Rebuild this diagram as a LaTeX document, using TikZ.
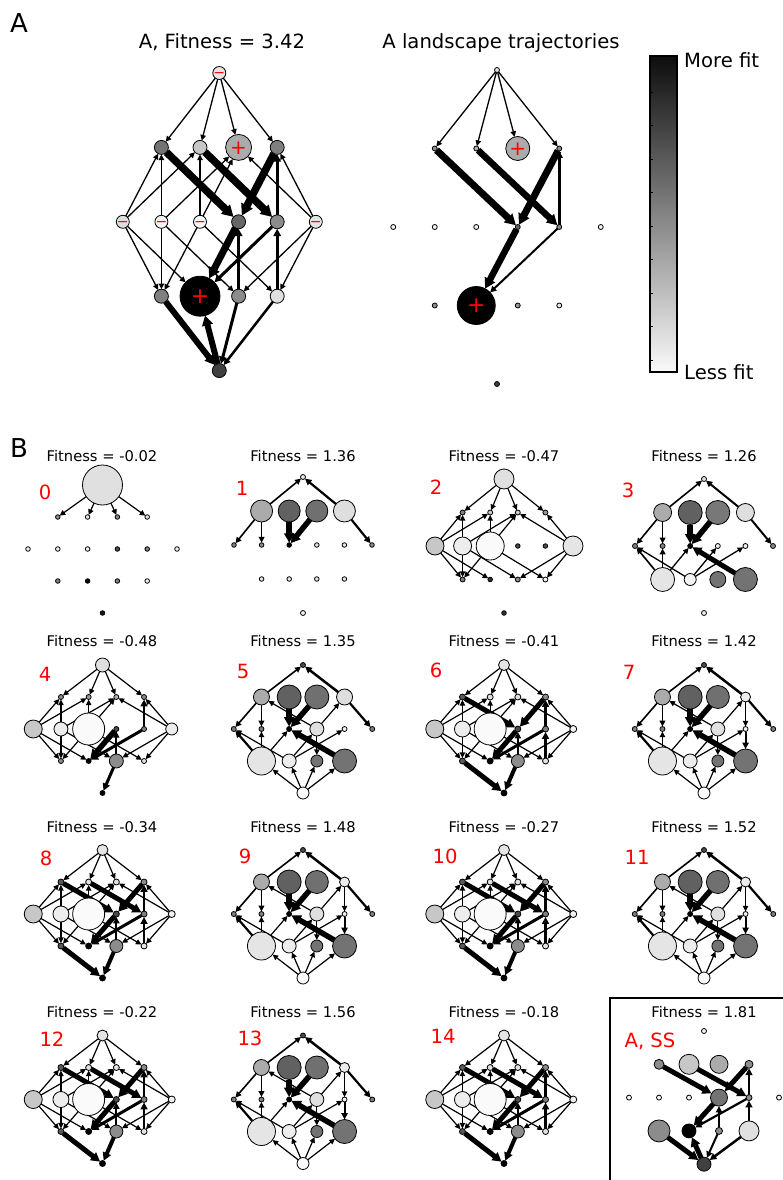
\documentclass[tikz,border=0pt]{standalone}
\usepackage{fontspec}
\setmainfont{DejaVu Sans}
\usetikzlibrary{arrows.meta}
\pgfdeclarelayer{edges}
\pgfsetlayers{edges,main}
\newcommand\defpos[3]{\expandafter\def\csname px#1\endcsname{#2}\expandafter\def\csname py#1\endcsname{#3}}
\defpos{T}{0}{0}
\defpos{a1}{-1.5}{1}\defpos{a2}{-0.5}{1}\defpos{a3}{0.5}{1}\defpos{a4}{1.5}{1}
\defpos{b1}{-2.5}{2}\defpos{b2}{-1.5}{2}\defpos{b3}{-0.5}{2}\defpos{b4}{0.5}{2}\defpos{b5}{1.5}{2}\defpos{b6}{2.5}{2}
\defpos{c1}{-1.5}{3}\defpos{c2}{-0.5}{3}\defpos{c3}{0.5}{3}\defpos{c4}{1.5}{3}
\defpos{Z}{0}{4}
\newcommand\setpanel[5]{\def\pp{#1}\def\pcx{#2}\def\pty{#3}\def\pdx{#4}\def\pdy{#5}}
\newcommand\nds[1]{\foreach \ni/\nr/\ng in {#1}{\node[nd,minimum size={2*\nr},fill=black!\ng] (\pp\ni) at ({\pcx+(\csname px\ni\endcsname)*\pdx},{\pty+(\csname py\ni\endcsname)*\pdy}) {};}}
\newcommand\eds[1]{\begin{pgfonlayer}{edges}\foreach \ea/\eb/\ew in {#1}{\draw[arr=\ew] (\pp\ea) -- (\pp\eb);}\end{pgfonlayer}}
\newcommand\thinedges[1]{\eds{T/a1/#1,T/a2/#1,T/a3/#1,T/a4/#1,b1/a1/#1,b1/a2/#1,b2/a1/#1,b2/a3/#1,b3/a2/#1,b3/a3/#1,b6/a3/#1,b6/a4/#1,b1/c1/#1,b1/c2/#1,b2/c1/#1,b2/c3/#1,b3/c1/#1,b3/c4/#1,b6/c3/#1,b6/c4/#1}}
\newcommand\oddedges{\eds{a1/T/1.6,a4/T/2.5,a1/b1/1.6,a1/b2/1.6,a4/b6/2.2,a2/b3/5.5,a3/b3/5.5,b4/a1/1.2,b4/a4/1.2,b4/c3/1.2,c1/b1/2.2,c1/b2/1.3,c1/b3/1.2,c2/b1/1.2,c2/b4/1.2,c2/b5/1.2,c4/b3/5.5,Z/c1/1.2,Z/c2/1.2,Z/c3/1.2,Z/c4/1.2}}
\newcommand\evenedges{\eds{a1/b4/5,a4/b4/5,b5/a4/2.5,b4/c2/5,b5/c2/3,c3/b4/2,c4/b5/2.5,c1/Z/5,c3/Z/4}}
\newcommand\oddnodes{\nds{T/2.5/70,a1/8/33,a2/12/62,a3/11.5/56,a4/5/7,b1/2.5/50,b2/2.5/50,b3/2.5/100,b4/7/12,b5/2.5/5,b6/2.5/50,c1/14/10,c2/7/7,c3/6/55,c4/12/55,Z/6/2}}
\newcommand\evennodes{\nds{T/5.5/10,a1/3/65,a2/3/12,a3/3/12,a4/3/45,b1/9/22,b2/8/7,b3/16/2,b4/3/70,b5/3/50,b6/3.5/5,c1/3/65,c2/3/100,c3/6.5/45,c4/3/10,Z/3/100}}
\newcommand\sgn[4]{\node[sgnst,font=\fontsize{#3}{#3}\selectfont,anchor=base] (#1) at ([yshift={-0.34*#3}]#2.center) {#4};}
\begin{document}
\begin{tikzpicture}[x=1pt,y=-1pt,
  nd/.style={circle,draw,line width=0.8pt,inner sep=0pt,outer sep=0pt},
  arr/.style={line width=#1pt,-{Triangle[length=4.5pt 0.9,width=4pt 1.1]}},
  ttl/.style={font=\fontsize{19.6}{22}\selectfont,anchor=base,inner sep=0pt},
  sttl/.style={font=\fontsize{14.7}{17}\selectfont,anchor=base,inner sep=0pt},
  num/.style={font=\fontsize{19.6}{22}\selectfont,text=red,anchor=base,inner sep=0pt},
  sgnst/.style={text=red,inner sep=0pt}]
\useasboundingbox (0,0) rectangle (782,1180);
% panel labels
\node[font=\fontsize{26}{28}\selectfont,anchor=base,inner sep=0pt] (labA) at (19,33) {A};
\node[font=\fontsize{26}{28}\selectfont,anchor=base,inner sep=0pt] (labB) at (19,457) {B};
\node[ttl] (tL) at (222,49) {A, Fitness = 3.42};
\node[ttl] (tR) at (501,49) {A landscape trajectories};
% ---------- panel A left
\setpanel{L}{219.3}{73}{38.6}{74.4}
\nds{T/6.5/10,a1/7/55,a2/7/22,a3/13/33,a4/7/50,b1/6.5/13,b2/6.5/5,b3/6.5/3,b4/7/60,b5/7/45,b6/6.5/10,c1/7/50,c2/20/100,c3/7/45,c4/7/12,Z/7/75}
\thinedges{1.3}
\eds{a1/b4/7.5,a2/b5/7.5,a4/b4/7.5,b5/a4/3,b4/c2/7,b5/c2/3,c3/b4/3,c4/b5/3,c1/Z/6,Z/c2/6,c3/Z/3,c4/Z/2.5}
\sgn{sLT}{LT}{14}{−}\sgn{sLb1}{Lb1}{14}{−}\sgn{sLb2}{Lb2}{14}{−}\sgn{sLb3}{Lb3}{14}{−}\sgn{sLb6}{Lb6}{14}{−}
\sgn{sLa3}{La3}{20}{+}\sgn{sLc2}{Lc2}{22}{+}
% ---------- panel A right
\setpanel{R}{497}{70}{41.5}{78.5}
\nds{T/2.5/10,a1/2.5/45,a2/2.5/30,a3/12/33,a4/2.5/45,b1/2.5/5,b2/2.5/5,b3/2.5/5,b4/2.5/60,b5/2.5/45,b6/2.5/5,c1/2.5/45,c2/19/100,c3/2.5/40,c4/2.5/10,Z/2.5/75}
\eds{T/a1/1.3,T/a2/1.3,T/a3/1.3,T/a4/1.3,a1/b4/7,a2/b5/6.5,a4/b4/7,b5/a4/2.5,b4/c2/6.5,b5/c2/2}
\sgn{sRa3}{Ra3}{20}{+}\sgn{sRc2}{Rc2}{22}{+}
% colorbar
\node[draw,line width=1.2pt,minimum width=27pt,minimum height=316pt,inner sep=0pt,top color=black!95,bottom color=black!2] (cbar) at (663.5,214) {};
\foreach \ty in {92,125.7,159,192.3,226,259.5,293,326.7,360.5}{\draw[line width=0.6pt] (650,\ty) -- (652.5,\ty);}
\node[font=\fontsize{19.6}{22}\selectfont,anchor=west,inner sep=0pt] (more) at (684,60) {More fit};
\node[font=\fontsize{19.6}{22}\selectfont,anchor=west,inner sep=0pt] (less) at (684,372) {Less fit};
% ---------- row titles and numbers
\node[sttl] (f0) at (102,461) {Fitness = -0.02};
\node[sttl] (f1) at (303,461) {Fitness = 1.36};
\node[sttl] (f2) at (504,461) {Fitness = -0.47};
\node[sttl] (f3) at (704,461) {Fitness = 1.26};
\node[sttl] (f4) at (102,646) {Fitness = -0.48};
\node[sttl] (f5) at (303,646) {Fitness = 1.35};
\node[sttl] (f6) at (504,646) {Fitness = -0.41};
\node[sttl] (f7) at (704,646) {Fitness = 1.42};
\node[sttl] (f8) at (102,832) {Fitness = -0.34};
\node[sttl] (f9) at (303,832) {Fitness = 1.48};
\node[sttl] (f10) at (504,832) {Fitness = -0.27};
\node[sttl] (f11) at (704,832) {Fitness = 1.52};
\node[sttl] (f12) at (102,1017) {Fitness = -0.22};
\node[sttl] (f13) at (303,1017) {Fitness = 1.56};
\node[sttl] (f14) at (504,1017) {Fitness = -0.18};
\node[sttl] (f15) at (704,1017) {Fitness = 1.81};
\node[num] (n0) at (45,499) {0};
\node[num] (n1) at (242,495) {1};
\node[num] (n2) at (436,494) {2};
\node[num] (n3) at (628,497) {3};
\node[num] (n4) at (45,681) {4};
\node[num] (n5) at (243,678) {5};
\node[num] (n6) at (436,677) {6};
\node[num] (n7) at (629,679) {7};
\node[num] (n8) at (46,865) {8};
\node[num] (n9) at (245,863) {9};
\node[num] (n10) at (445,863) {10};
\node[num] (n11) at (637,864) {11};
\node[num] (n12) at (52,1046) {12};
\node[num] (n13) at (250,1045) {13};
\node[num] (n14) at (443,1043) {14};
\node[num] (n15) at (650,1047) {A, SS};
% ---------- panel 0
\setpanel{p0}{102.5}{485}{29.8}{32}
\nds{T/20/12,a1/2.3/45,a2/2.3/10,a3/2.3/45,a4/2.3/10,b1/2.3/5,b2/2.3/5,b3/2.3/5,b4/2.3/70,b5/2.3/50,b6/2.3/5,c1/2.3/50,c2/2.3/100,c3/2.3/50,c4/2.3/5,Z/2.3/90}
\eds{T/a1/1.2,T/a2/1.2,T/a3/1.2,T/a4/1.2}
% ---------- panel 1
\setpanel{p1}{303}{477}{27.6}{34}
\nds{T/2.5/10,a1/11/33,a2/11/62,a3/11/56,a4/11/13,b1/2.3/50,b2/2.3/45,b3/2.3/100,b4/2.3/10,b5/2.3/10,b6/2.3/45,c1/2.3/10,c2/2.3/10,c3/2.3/10,c4/2.3/10,Z/2.5/5}
\eds{a1/T/1.6,a4/T/2.2,a1/b1/1.6,a1/b2/1.6,a4/b6/2.2,a2/b3/5.5,a3/b3/5.5}
% ---------- panel 2
\setpanel{p2}{504}{479}{27.6}{33.5}
\nds{T/10/12,a1/2.5/50,a2/2.5/20,a3/2.5/20,a4/2.5/40,b1/9/22,b2/9/7,b3/14/2,b4/2.3/70,b5/2.3/70,b6/10/10,c1/2.5/50,c2/2.3/80,c3/2.5/45,c4/2.5/5,Z/2.3/80}
\thinedges{1.2}
% ---------- panel 3
\setpanel{p3}{704}{479}{27.6}{33.5}
\nds{T/2.5/10,a1/9/33,a2/12/62,a3/12/53,a4/9/13,b1/2.5/50,b2/2.5/50,b3/2.5/100,b4/2.5/5,b5/2.5/5,b6/2.5/45,c1/12/10,c2/6/5,c3/8/55,c4/12/55,Z/2.5/5}
\eds{a1/T/1.6,a4/T/2,a1/b1/1.6,a1/b2/1.6,a4/b6/2,a2/b3/5.5,a3/b3/5.5,c1/b1/1.6,c1/b2/1.6,c1/b3/1.3,c2/b1/1.3,c2/b4/1.3,c2/b5/1.3,c4/b3/5}
% ---------- panel 4
\setpanel{p4}{102.5}{665}{27.7}{32}
\nds{T/7/12,a1/2.5/45,a2/2.5/40,a3/2.5/30,a4/2.5/45,b1/9/22,b2/7/7,b3/16/2,b4/2.5/70,b5/2.5/50,b6/6/7,c1/2.5/45,c2/2.5/100,c3/7/45,c4/2.5/10,Z/2.5/100}
\thinedges{1.2}
\eds{b5/a4/2.5,b4/c2/5.5,b5/c2/3,c3/b4/1.8,c3/Z/3}
% ---------- panel 5
\setpanel{p5}{303}{665}{27.7}{32}
\nds{T/2.5/70,a1/8/33,a2/12/62,a3/12/56,a4/8/13,b1/2.5/50,b2/2.5/50,b3/2.5/100,b4/7/12,b5/2.5/5,b6/2.5/50,c1/14/10,c2/7/7,c3/6/55,c4/12/55,Z/6/2}
\oddedges
% ---------- panel 6
\setpanel{p6}{504}{665}{27.7}{32}
\evennodes
\thinedges{1.2}
\evenedges
% ---------- panel 7
\setpanel{p7}{704}{665}{27.7}{32}
\oddnodes
\oddedges
\eds{a4/b5/1.2,b5/c4/2}
% ---------- panel 8
\setpanel{p8}{102.5}{850}{27.7}{32}
\evennodes
\thinedges{1.2}
\evenedges
\eds{a2/b5/5}
% ---------- panel 9
\setpanel{p9}{303}{850}{27.7}{32}
\oddnodes
\oddedges
\eds{a4/b5/1.2,b5/c4/2}
% ---------- panel 10
\setpanel{p10}{504}{850}{27.7}{32}
\evennodes
\thinedges{1.2}
\evenedges
\eds{a2/b5/5}
% ---------- panel 11
\setpanel{p11}{704}{850}{27.7}{32}
\oddnodes
\oddedges
\eds{a4/b5/1.2,b5/c4/2}
% ---------- panel 12
\setpanel{p12}{102.5}{1035.5}{27.7}{32}
\evennodes
\thinedges{1.2}
\evenedges
\eds{a2/b5/5}
% ---------- panel 13
\setpanel{p13}{303}{1035.5}{27.7}{32}
\oddnodes
\oddedges
\eds{a4/b5/1.2,b5/c4/2}
% ---------- panel 14
\setpanel{p14}{504}{1035.5}{27.7}{32}
\evennodes
\thinedges{1.2}
\evenedges
\eds{a2/b5/5}
% ---------- panel SS
\draw[line width=1.3pt] (610,1185) -- (610,998) -- (790,998);
\setpanel{ss}{704}{1031}{30}{33.3}
\nds{T/2.5/3,a1/5/45,a2/10/22,a3/9/33,a4/4/45,b1/2.5/3,b2/2.5/3,b3/2.5/3,b4/8.5/55,b5/3/45,b6/2.5/3,c1/11/45,c2/7/100,c3/3.5/45,c4/10/12,Z/7/75}
\eds{a1/b4/5,a2/b5/5,a4/b4/5,b5/a4/2.5,c4/b5/2.5,b4/c2/5,b5/c2/2.2,c3/b4/2,c1/Z/5,Z/c2/5,c3/Z/2,c4/Z/2.5}
\end{tikzpicture}
\end{document}
